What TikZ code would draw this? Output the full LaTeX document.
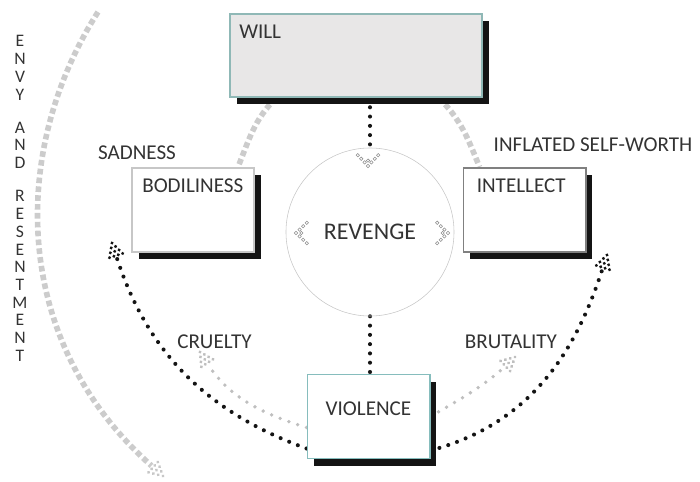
\documentclass[tikz,border=0pt]{standalone}
\usepackage{fontspec}
\setmainfont{Carlito}
\usetikzlibrary{shadows,backgrounds}
\definecolor{tealedge}{HTML}{86BDBD}
\definecolor{willedge}{HTML}{8FB8B6}
\definecolor{willfill}{HTML}{E8E7E7}
\tikzset{
	box/.style={draw, line width=1.4pt, minimum width=3.05cm, minimum height=2.1cm, inner sep=0pt,
		drop shadow={shadow xshift=4.8pt, shadow yshift=-5.2pt, opacity=1, fill=black!92}},
	tag/.style={font=\fontsize{15}{18}\selectfont, text=black!80, inner sep=0pt},
	blackdots/.style={draw=black!92, line width=2.9pt, line cap=round, dash pattern=on 0pt off 6.6pt},
	greydots/.style={draw=black!25, line width=2.7pt, line cap=round, dash pattern=on 0pt off 6.6pt},
	squares/.style={draw=black!20, line width=4pt, dash pattern=on 4pt off 2.3pt},
	dothead/.pic={
		\foreach \r in {0,...,3}{\foreach \c in {0,...,\r}{\fill ({-\r*4.4},{(\c-\r/2)*4.6}) circle (1.7);}}
	},
	ringhead/.pic={
		\foreach \p in {(0,0),(-3.6,3.4),(-7.2,6.8),(-10.8,10.2),(-3.6,-3.4),(-7.2,-6.8),(-10.8,-10.2),(-5.4,0)}
			\draw[line width=0.4pt] \p circle (1.7);
	}
}

\begin{document}
\begin{tikzpicture}[x=0.025cm, y=0.025cm]
			%%%%% START %%%%%
			\useasboundingbox (0,0) rectangle (700,482);
			
			\node[box, draw=willedge, fill=willfill, minimum width=6.3cm, minimum height=2.075cm,
				label={[tag, anchor=north west, xshift=0.25cm, yshift=-0.3cm]north west:WILL}] (will) at (356,426.5) {};
			\node[box, draw=black!22, fill=white,
				label={[tag, anchor=north west, xshift=0.275cm, yshift=-0.3cm]north west:BODILINESS}] (bod) at (193,272) {};
			\node[box, draw=black!50, fill=white,
				label={[tag, anchor=north west, xshift=0.35cm, yshift=-0.3cm]north west:INTELLECT}] (int) at (524.5,272) {};
			\node[box, draw=tealedge, fill=white,
				label={[tag, yshift=0.2cm]center:VIOLENCE}] (vio) at (368.5,65.5) {};
			
			\node[circle, draw=black!22, line width=0.4pt, minimum size=4.2cm, inner sep=0pt,
				font=\fontsize{17}{20}\selectfont, text=black!80] (rev) at (370,250) {REVENGE};
			
			\node[tag] (sad) at (137,329) {SADNESS};
			\node[tag] (inf) at (593,337) {INFLATED SELF-WORTH};
			\node[tag] (cru) at (214.5,140) {CRUELTY};
			\node[tag] (bru) at (511,140) {BRUTALITY};
			\node[tag, align=center, font=\fontsize{12.5}{12.6}\selectfont] (envy) at (20,283.5)
				{E\\N\\V\\Y\\[11pt]A\\N\\D\\[11pt]R\\E\\S\\E\\N\\T\\M\\E\\N\\T};
			
			\coordinate (envytop) at (98,470);
			\coordinate (envytip) at (163,6);
			\coordinate (bodtip) at (112,239);
			\coordinate (inttip) at (607,227);
			\coordinate (crutip) at (200,130);
			\coordinate (brutip) at (515,125);
			
			\begin{pgfonlayer}{background}
			\draw[blackdots] (rev.north |- will.south) -- (rev.north);
			\draw[blackdots] (rev.south) -- (rev.south |- vio.north);
			
			\draw[squares] ([xshift=1.175cm]will.south west) to[out=225, in=68] ([xshift=-0.425cm]bod.north east);
			\draw[squares] ([xshift=-1.1cm]will.south east) to[out=-45, in=112] ([xshift=0.425cm]int.north west);
			\draw[squares, shorten >=11pt] (envytop) .. controls (10,332) and (10,142) .. (envytip);
			
			\draw[blackdots, shorten >=11pt] ([yshift=0.275cm]vio.south west) to[out=160, in=-72] (bodtip);
			\draw[blackdots, shorten >=11pt] ([yshift=0.225cm]vio.south east) to[out=15, in=-108] (inttip);
			\draw[greydots, shorten >=11pt] ([yshift=0.8cm]vio.south west) to[out=163, in=-57] (crutip);
			\draw[greydots, shorten >=11pt] ([yshift=1.075cm]vio.south east) to[out=30, in=-137] (brutip);
			\end{pgfonlayer}
			
			\pic[black!92, rotate=108] at (bodtip) {dothead};
			\pic[black!92, rotate=72] at (inttip) {dothead};
			\pic[black!25, rotate=123] at (crutip) {dothead};
			\pic[black!25, rotate=43] at (brutip) {dothead};
			\pic[black!22, rotate=-42] at (envytip) {dothead};
			
			\pic[black!45, rotate=-90] at (368,316) {ringhead};
			\pic[black!45, rotate=180] at (296,249) {ringhead};
			\pic[black!45] at (448,249) {ringhead};
			%%%%% END %%%%%
\end{tikzpicture}
\end{document}
